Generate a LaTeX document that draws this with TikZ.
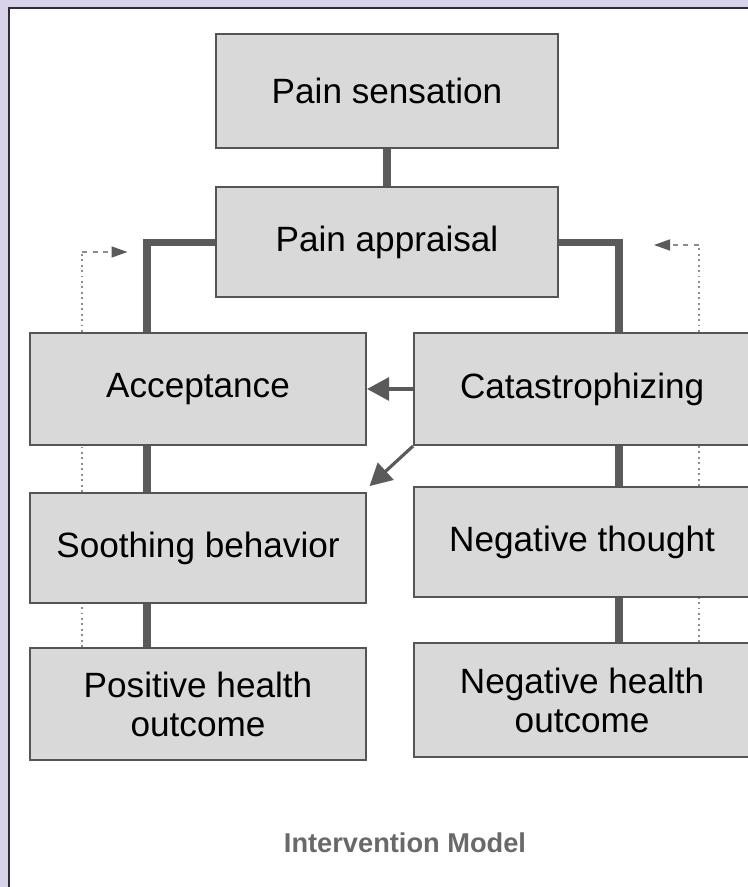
\documentclass[tikz,border=0pt]{standalone}
\usepackage{fontspec}
\setmainfont{Liberation Sans}
\usetikzlibrary{positioning}
\usetikzlibrary{arrows.meta}

\definecolor{lavender}{RGB}{216,211,232}
\definecolor{panelline}{RGB}{45,45,50}
\definecolor{boxfill}{RGB}{217,217,217}
\definecolor{boxline}{RGB}{85,85,85}
\definecolor{linkgray}{RGB}{90,90,90}
\definecolor{dotgray}{RGB}{140,140,140}
\definecolor{titlegray}{RGB}{105,105,105}

\tikzset{
  box/.style={draw=boxline, line width=1.2pt, fill=boxfill, minimum width=6.72cm,
    minimum height=2.2cm, inner sep=0pt, align=center,
    font=\fontsize{20}{22.5}\selectfont},
  link/.style={draw=linkgray, line width=4pt},
  push/.style={draw=linkgray, line width=1.8pt, -{Triangle[length=0.44cm,width=0.46cm]}},
  feed/.style={draw=dotgray, dotted, line width=1.1pt},
  feedtip/.style={draw=dotgray, dashed, line width=0.9pt,
    -{Triangle[length=0.32cm,width=0.22cm,color=linkgray]}}
}

\begin{document}
\begin{tikzpicture}
\useasboundingbox (0,0) rectangle (14.96,17.74);
\clip (0,0) rectangle (14.96,17.74);
\fill[lavender] (0,0) rectangle (14.96,17.74);
\draw[panelline, line width=1.3pt, fill=white] (0.18,-1) rectangle (16,17.58);

\node[box, minimum width=6.84cm, minimum height=2.28cm](ps) at (7.74,15.92){Pain sensation};
\node[box, minimum width=6.84cm, below = 0.74cm of ps](pa){Pain appraisal};
\node[box, minimum height=2.24cm](acc) at (3.96,9.96){Acceptance};
\node[box, minimum height=2.24cm, right = 0.92cm of acc](cat){Catastrophizing};
\node[box, below = 0.92cm of acc](sooth){Soothing behavior};
\node[box, minimum height=2.24cm, below = 0.86cm of sooth](posh){Positive health\\outcome};
\node[box, below = 0.8cm of cat](negt){Negative thought};
\node[box, minimum height=2.28cm, below = 0.88cm of negt](negh){Negative health\\outcome};

\coordinate (lx) at (2.94,0);
\coordinate (rx) at (12.38,0);
\coordinate (lf) at (1.64,0);
\coordinate (rf) at (13.98,0);
\coordinate (ltop) at (1.64,12.7);
\coordinate (lend) at (2.55,12.7);
\coordinate (rtop) at (13.98,12.84);
\coordinate (rend) at (13.08,12.84);

\path[link] (ps) -- (pa);
\path[link] (pa.west) -| (acc.north -| lx);
\path[link] (pa.east) -| (cat.north -| rx);
\path[link] (acc.south -| lx) -- (sooth.north -| lx);
\path[link] (sooth.south -| lx) -- (posh.north -| lx);
\path[link] (cat.south -| rx) -- (negt.north -| rx);
\path[link] (negt.south -| rx) -- (negh.north -| rx);

\draw[push] (cat.west) -- (acc.east);
\draw[push] (cat.south west) -- ([xshift=0.05cm,yshift=0.12cm]sooth.north east);

\draw[feed] (posh.north -| lf) -- (sooth.south -| lf);
\draw[feed] (sooth.north -| lf) -- (acc.south -| lf);
\draw[feed] (acc.north -| lf) -- (ltop);
\draw[feedtip] (ltop) -- (lend);
\draw[feed] (negh.north -| rf) -- (negt.south -| rf);
\draw[feed] (negt.north -| rf) -- (cat.south -| rf);
\draw[feed] (cat.north -| rf) -- (rtop);
\draw[feedtip] (rtop) -- (rend);

\node[font=\bfseries\fontsize{15.5}{18}\selectfont, text=titlegray](title) at (8.1,0.88){Intervention Model};
\end{tikzpicture}
\end{document}
